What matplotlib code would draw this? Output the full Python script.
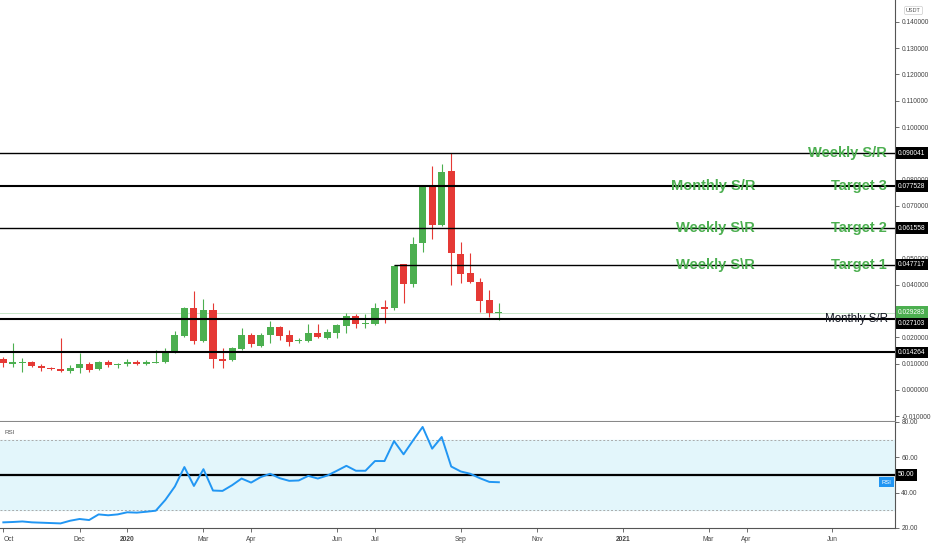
import matplotlib
matplotlib.use("Agg")
import matplotlib.pyplot as plt
import numpy as np
import pandas as pd

# Weekly candles, first bar = week of 2019-09-30
start = pd.Timestamp("2019-09-30")
opens = [0.0117, 0.0100, 0.0103, 0.0108, 0.0092, 0.0084, 0.0080, 0.0071, 0.0085, 0.0098,
         0.0079, 0.0107, 0.0094, 0.0098, 0.0108, 0.0100, 0.0104, 0.0105, 0.0146, 0.0207,
         0.0311, 0.0186, 0.0304, 0.0116, 0.0114, 0.0156, 0.0209, 0.0169, 0.0209, 0.0238,
         0.0209, 0.0186, 0.0186, 0.0216, 0.0199, 0.0218, 0.0245, 0.0281, 0.0251, 0.0251,
         0.0317, 0.0311, 0.0479, 0.0403, 0.0558, 0.0776, 0.0627, 0.0833, 0.0516, 0.0446,
         0.0409, 0.0342, 0.0292]
highs = [0.0127, 0.0180, 0.0121, 0.0110, 0.0099, 0.0088, 0.0197, 0.0094, 0.0140, 0.0108,
         0.0110, 0.0114, 0.0104, 0.0117, 0.0114, 0.0114, 0.0152, 0.0158, 0.0226, 0.0315,
         0.0378, 0.0346, 0.0330, 0.0159, 0.0163, 0.0235, 0.0216, 0.0216, 0.0262, 0.0243,
         0.0228, 0.0196, 0.0250, 0.0250, 0.0233, 0.0250, 0.0292, 0.0289, 0.0288, 0.0330,
         0.0342, 0.0475, 0.0479, 0.0583, 0.0780, 0.0852, 0.0859, 0.0900, 0.0562, 0.0520,
         0.0425, 0.0380, 0.0330]
lows = [0.0086, 0.0089, 0.0070, 0.0086, 0.0073, 0.0076, 0.0070, 0.0064, 0.0066, 0.0070,
        0.0076, 0.0089, 0.0082, 0.0091, 0.0094, 0.0094, 0.0101, 0.0101, 0.0142, 0.0203,
        0.0174, 0.0184, 0.0083, 0.0083, 0.0110, 0.0152, 0.0165, 0.0165, 0.0178, 0.0190,
        0.0169, 0.0178, 0.0181, 0.0197, 0.0194, 0.0197, 0.0216, 0.0236, 0.0235, 0.0249,
        0.0254, 0.0305, 0.0330, 0.0393, 0.0526, 0.0573, 0.0624, 0.0399, 0.0406, 0.0408,
        0.0298, 0.0279, 0.0266]
closes = [0.0102, 0.0105, 0.0108, 0.0091, 0.0083, 0.0079, 0.0071, 0.0085, 0.0098, 0.0076,
          0.0107, 0.0094, 0.0100, 0.0108, 0.0100, 0.0106, 0.0108, 0.0148, 0.0209, 0.0313,
          0.0186, 0.0304, 0.0118, 0.0112, 0.0161, 0.0209, 0.0174, 0.0209, 0.0238, 0.0205,
          0.0184, 0.0190, 0.0216, 0.0200, 0.0219, 0.0247, 0.0281, 0.0250, 0.0255, 0.0311,
          0.0309, 0.0473, 0.0403, 0.0555, 0.0780, 0.0627, 0.0830, 0.0520, 0.0441, 0.0412,
          0.0340, 0.0292, 0.0293]
rsi = [23.2, 23.4, 23.7, 23.2, 23.0, 22.8, 22.6, 24.1, 25.1, 24.5,
       27.7, 27.2, 27.7, 28.9, 28.7, 29.2, 29.8, 35.9, 43.5, 54.5,
       43.8, 53.3, 41.2, 41.0, 44.2, 48.0, 45.7, 48.8, 50.7, 48.2,
       46.7, 46.9, 49.5, 48.0, 49.7, 52.4, 55.2, 52.4, 52.4, 57.9,
       57.9, 69.2, 61.7, 69.6, 77.2, 64.9, 71.5, 54.8, 52.0, 50.7,
       48.2, 46.1, 45.9]

# niveaux tracés a la main
levels = [0.090041, 0.077528, 0.061558, 0.047717, 0.027103, 0.014264]
level_widths = [1.0, 1.5, 1.0, 1.0, 1.5, 1.5]
level_start = [None, None, None, 41, None, None]
label_shift = [0, 0, 0, 0, -3.2, 0]
last_price = 0.029283

right_texts = ["Weekly S/R", "Target 3", "Target 2", "Target 1"]
right_levels = [0.090041, 0.077528, 0.061558, 0.047717]
left_texts = ["Monthly S/R", "Weekly S\\R", "Weekly S\\R"]
left_levels = [0.077528, 0.061558, 0.047717]

price_ticks = [-0.01, 0.0, 0.01, 0.02, 0.04, 0.05, 0.07, 0.08, 0.10, 0.11, 0.12, 0.13, 0.14]

tick_labels = ["Oct", "Dec", "2020", "Mar", "Apr", "Jun", "Jul", "Sep", "Nov", "2021", "Mar", "Apr", "Jun"]
tick_dates = ["2019-10-01", "2019-12-01", "2020-01-01", "2020-03-01", "2020-04-01", "2020-06-01",
              "2020-07-01", "2020-09-01", "2020-11-01", "2021-01-01", "2021-03-01", "2021-04-01",
              "2021-06-01"]

green = "#4caf50"
red = "#e53935"
axis_col = "#555555"
font = ["Liberation Sans", "DejaVu Sans"]
plt.rcParams["font.family"] = font

W, H = 932, 550
fig = plt.figure(figsize=(W / 100, H / 100), dpi=100)
ax = fig.add_axes([0, 1 - 422 / H, 895 / W, 422 / H])
ax2 = fig.add_axes([0, 1 - 528 / H, 895 / W, 106 / H])

x = np.arange(len(opens))
o = np.array(opens)
c = np.array(closes)
cols = [green if cc >= oo else red for oo, cc in zip(o, c)]
ax.vlines(x, lows, highs, colors=cols, linewidth=0.8, zorder=3)
bottoms = np.minimum(o, c)
heights = np.maximum(np.abs(c - o), 0.0003)
ax.bar(x, heights, bottom=bottoms, width=0.74, color=cols, zorder=4)

x0, x1 = -0.35, 93.57
ax.set_xlim(x0, x1)
ax.set_ylim(-0.01217, 0.1483)

ax.axhline(last_price, color="#c8e6c9", linewidth=0.7, zorder=2)
for lv, lw, st in zip(levels, level_widths, level_start):
    if st is None:
        ax.axhline(lv, color="black", linewidth=lw, zorder=5)
    else:
        ax.hlines(lv, st, x1, color="black", linewidth=lw, zorder=5)

for t, lv in zip(right_texts, right_levels):
    ax.text(92.7, lv, t, ha="right", va="center", color=green, fontsize=10.5,
            fontweight="bold", zorder=6)
for t, lv in zip(left_texts, left_levels):
    ax.text(78.9, lv, t, ha="right", va="center", color=green, fontsize=10.5,
            fontweight="bold", zorder=6)
ax.text(92.8, 0.027103, "Monthly S/R", ha="right", va="center", color="#131722",
        fontsize=8.3, zorder=6)

# echelle de prix
ax.yaxis.tick_right()
ax.set_yticks(price_ticks)
ax.yaxis.set_major_formatter(matplotlib.ticker.FormatStrFormatter("%.6f"))
ax.tick_params(axis="y", length=3, width=0.6, color=axis_col, labelsize=4.8,
               labelcolor="#444444", pad=1.5)
ax.tick_params(axis="x", bottom=False, labelbottom=False)
for s in ["left", "top"]:
    ax.spines[s].set_visible(False)
ax.spines["right"].set_color(axis_col)
ax.spines["right"].set_linewidth(0.8)
ax.spines["bottom"].set_color("#888888")
ax.spines["bottom"].set_linewidth(1.5)

for lv, sh in zip(levels, label_shift):
    ax.annotate(f"{lv:.6f}", xy=(1, lv), xycoords=("axes fraction", "data"),
                xytext=(2.3, sh), textcoords="offset points", ha="left", va="center",
                color="white", fontsize=4.8, annotation_clip=False, zorder=10,
                bbox=dict(boxstyle="square,pad=0.35", fc="black", ec="none"))
ax.annotate(f"{last_price:.6f}", xy=(1, last_price), xycoords=("axes fraction", "data"),
            xytext=(2.3, 0.6), textcoords="offset points", ha="left", va="center",
            color="white", fontsize=4.8, annotation_clip=False, zorder=11,
            bbox=dict(boxstyle="square,pad=0.35", fc=green, ec="none"))
fig.text(913.5 / W, 1 - 10.5 / H, "USDT", ha="center", va="center", fontsize=4,
         color="#555555", bbox=dict(boxstyle="round,pad=0.3", fc="white", ec="#cccccc", lw=0.5))

# panneau RSI
ax2.axhspan(30, 70, color="#e3f6fb", zorder=0)
ax2.axhline(70, color="#aaaaaa", linewidth=0.7, linestyle=(0, (2, 2)), zorder=1)
ax2.axhline(30, color="#aaaaaa", linewidth=0.7, linestyle=(0, (2, 2)), zorder=1)
ax2.axhline(50, color="black", linewidth=1.6, zorder=2)
ax2.plot(x, rsi, color="#2196f3", linewidth=1.4, zorder=3)
ax2.set_xlim(x0, x1)
ax2.set_ylim(20, 80)
ax2.yaxis.tick_right()
ax2.set_yticks([20, 40, 60, 80])
ax2.set_yticklabels(["20.00", "40.00", "60.00", "80.00"])
ax2.tick_params(axis="y", length=3, width=0.6, color=axis_col, labelsize=4.8,
                labelcolor="#444444", pad=1.5)
ax2.spines["left"].set_visible(False)
ax2.spines["top"].set_visible(False)
ax2.spines["right"].set_color(axis_col)
ax2.spines["right"].set_linewidth(0.8)
ax2.spines["bottom"].set_color(axis_col)
ax2.spines["bottom"].set_linewidth(0.8)
ax2.text(0.005, 0.9, "RSI", transform=ax2.transAxes, fontsize=4.5, color="#555555",
         ha="left", va="center")
ax2.annotate("50.00", xy=(1, 50), xycoords=("axes fraction", "data"), xytext=(2.3, 0),
             textcoords="offset points", ha="left", va="center", color="white", fontsize=4.8,
             annotation_clip=False, zorder=10,
             bbox=dict(boxstyle="square,pad=0.35", fc="black", ec="none"))
ax2.annotate("RSI", xy=(1, rsi[-1]), xycoords=("axes fraction", "data"), xytext=(-2.5, 0),
             textcoords="offset points", ha="right", va="center", color="white", fontsize=4.2,
             annotation_clip=False, zorder=10,
             bbox=dict(boxstyle="square,pad=0.4", fc="#2196f3", ec="none"))

tick_pos = [(pd.Timestamp(d) - start).days // 7 for d in tick_dates]
ax2.set_xticks(tick_pos)
ax2.set_xticklabels(tick_labels)
ax2.tick_params(axis="x", length=3, width=0.6, color=axis_col, labelsize=4.8,
                labelcolor="#444444", pad=3)
xl = ax2.get_xticklabels()
xl[0].set_horizontalalignment("left")
for lbl in xl:
    if lbl.get_text() in ("2020", "2021"):
        lbl.set_fontweight("bold")

fig.savefig("out.png", dpi=100)
